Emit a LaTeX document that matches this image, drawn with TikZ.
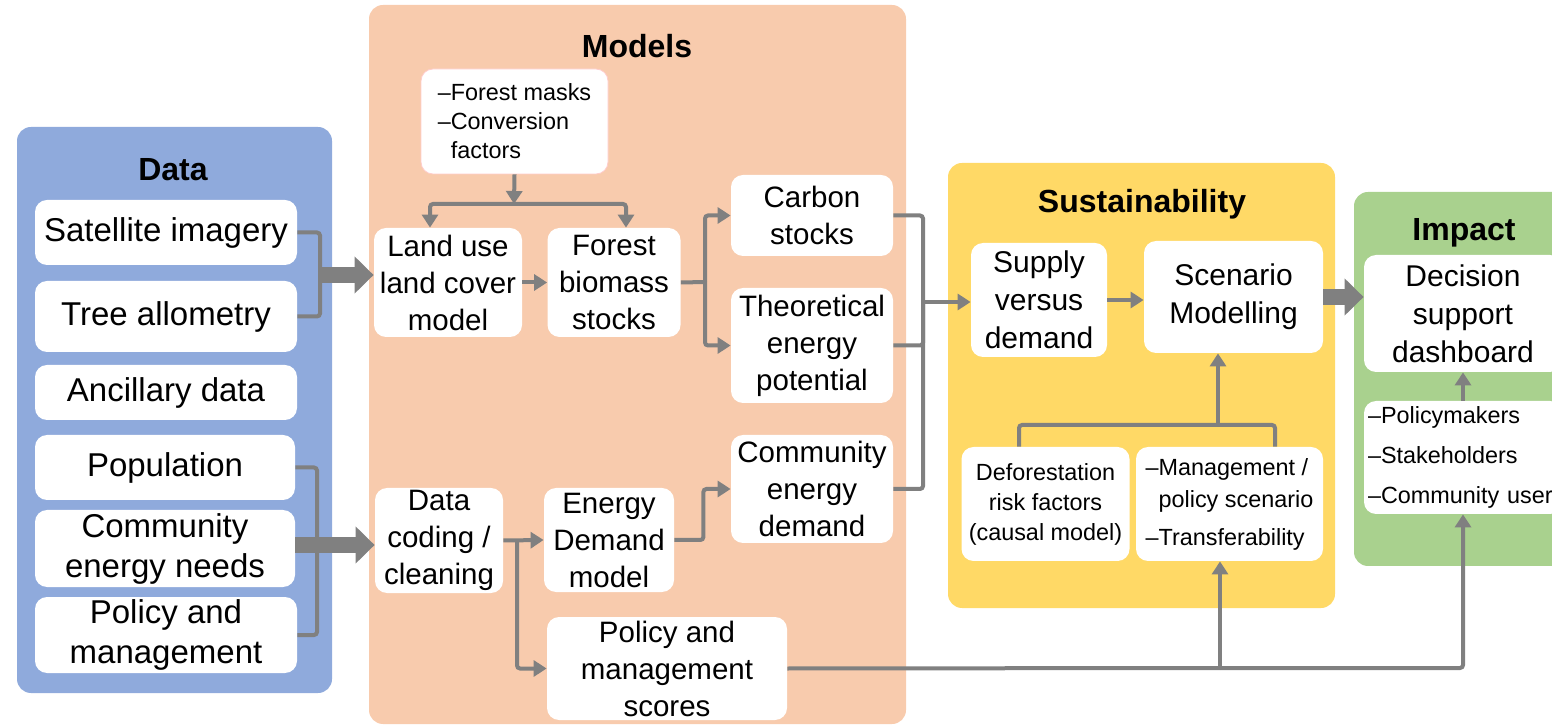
\documentclass[tikz,border=0pt]{standalone}
\usepackage{fontspec}
\setmainfont{Liberation Sans}
\usetikzlibrary{arrows.meta}
\definecolor{datablue}{HTML}{8FAADC}
\definecolor{modelpeach}{HTML}{F8CBAD}
\definecolor{sustyellow}{HTML}{FFD966}
\definecolor{impactgreen}{HTML}{A9D18E}
\definecolor{linegray}{HTML}{808080}
\tikzset{
  wbox/.style={fill=white, rounded corners=6pt, align=center, inner sep=1pt},
  databox/.style={wbox, font=\fontsize{16.5}{20}\selectfont},
  modbox/.style={wbox, font=\fontsize{14.75}{18.5}\selectfont},
  susbox/.style={wbox, font=\fontsize{15}{19}\selectfont},
  listbox/.style={wbox, font=\fontsize{11.7}{14.5}\selectfont},
  head/.style={font=\fontsize{16}{19}\selectfont\bfseries},
  bar/.style={draw=linegray, line width=2pt, rounded corners=1.5pt},
  conn/.style={bar, -{Triangle[length=6.5pt,width=8pt]}},
  fat/.style={draw=linegray, line width=8pt, -{Triangle[length=9.5pt,width=18pt]}},
}

\begin{document}
\begin{tikzpicture}[x=0.5pt, y=-0.5pt]
    \useasboundingbox (0,0) rectangle (1552,726);
    \clip (0,0) rectangle (1552,726);

    \fill[datablue, rounded corners=7pt] (17,127) rectangle (332,693);
    \fill[modelpeach, rounded corners=7pt] (369,5) rectangle (906,724);
    \fill[sustyellow, rounded corners=7pt] (948,163) rectangle (1335,608);
    \fill[impactgreen, rounded corners=7pt] (1354,192) rectangle (1580,566);

    \node[head] (datat) at (173,170) {Data};
    \node[head] (modelt) at (637,46) {Models};
    \node[head] (sust) at (1142,204) {Sustainability};
    \node[head] (impactt) at (1464,233) {Impact};

    \node[databox, minimum width=131pt, minimum height=32.5pt] (sat) at (166,232.5) {Satellite imagery};
    \node[databox, minimum width=131pt, minimum height=35.5pt] (tree) at (166,316.5) {Tree allometry};
    \node[databox, minimum width=131pt, minimum height=27.5pt] (anc) at (166,392.5) {Ancillary data};
    \node[databox, minimum width=130pt, minimum height=32.5pt] (pop) at (165,467.5) {Population};
    \node[databox, minimum width=130pt, minimum height=38.5pt] (need) at (165,548.5) {Community\\energy needs};
    \node[databox, minimum width=131pt, minimum height=38pt] (polin) at (166,635) {Policy and\\management};

    \node[listbox, align=left, draw=red!20, line width=0.4pt, minimum width=93.5pt, minimum height=52.5pt] (masks) at (514.5,121.5) {–Forest masks\\–Conversion\\\phantom{–}factors};
    \node[modbox, minimum width=74pt, minimum height=54.5pt] (luc) at (448,282.5) {Land use\\land cover\\model};
    \node[modbox, minimum width=66.5pt, minimum height=54.5pt] (fbs) at (614,282.5) {Forest\\biomass\\stocks};
    \node[modbox, minimum width=81pt, minimum height=40.5pt] (carbon) at (812,215.5) {Carbon\\stocks};
    \node[modbox, minimum width=81pt, minimum height=57.5pt] (theo) at (812,345.5) {Theoretical\\energy\\potential};
    \node[modbox, minimum width=81pt, minimum height=54pt] (commdem) at (812,489) {Community\\energy\\demand};
    \node[modbox, minimum width=64pt, minimum height=52.5pt] (clean) at (439,540.5) {Data\\coding /\\cleaning};
    \node[modbox, minimum width=65pt, minimum height=52pt] (energy) at (609,540) {Energy\\Demand\\model};
    \node[modbox, minimum width=120pt, minimum height=51.5pt] (scores) at (667,668.5) {Policy and\\management\\scores};

    \node[susbox, minimum width=68pt, minimum height=57pt] (supply) at (1039,300) {Supply\\versus\\demand};
    \node[susbox, minimum width=89.5pt, minimum height=56pt] (scen) at (1233.5,297) {Scenario\\Modelling};
    \node[listbox, font=\fontsize{11.7}{15}\selectfont, minimum width=84pt, minimum height=57pt] (defo) at (1045.5,504) {Deforestation\\risk factors\\(causal model)};
    \node[listbox, align=left, font=\fontsize{11.7}{16}\selectfont, minimum width=93.5pt, minimum height=57pt] (mgmt) at (1229.5,504) {–Management /\\\phantom{–}policy scenario\\[3pt]–Transferability};

    \node[susbox, minimum width=99pt, minimum height=58.5pt] (dss) at (1463,313.5) {Decision\\support\\dashboard};
    \node[listbox, align=left, font=\fontsize{11.7}{20}\selectfont, text width=95pt, inner sep=2pt, minimum height=56.5pt] (users) at (1463,457.5) {–Policymakers\\–Stakeholders\\–Community user};

    \coordinate (dj1) at (320,275);
    \coordinate (dj2) at (317,545);
    \coordinate (mj) at (514,204);
    \coordinate (split) at (705,282);
    \coordinate (fork) at (517,540);
    \coordinate (merge) at (923,302);
    \coordinate (sj) at (1218,425);
    \coordinate (pj) at (1220,668);

    \draw[bar] (sat.east) -| (dj1);
    \draw[bar] (tree.east) -| (dj1);
    \draw[fat] (dj1) -- (luc.west |- dj1);
    \draw[bar] (pop.east) -| (dj2);
    \draw[bar] (polin.east) -| (dj2);
    \draw[fat] (need.east |- dj2) -- (clean.west |- dj2);

    \draw[conn] (masks.south) -- (mj);
    \draw[conn] (mj) -| ([xshift=-9pt]luc.north);
    \draw[conn] (mj) -| ([xshift=6pt]fbs.north);
    \draw[conn] (luc.east) -- (fbs.west);
    \draw[bar] (fbs.east) -- (split);
    \draw[conn] (split) |- (carbon.west);
    \draw[conn] (split) |- (theo.west);
    \draw[conn] (clean.east) -- (energy.west);
    \draw[conn] (fork) |- (scores.west);
    \draw[conn] (energy.east) -- ++(29,0) |- (commdem.west);

    \draw[bar] (carbon.east) -| (merge);
    \draw[bar] (theo.east) -| (merge);
    \draw[bar] (commdem.east) -| (merge);
    \draw[conn] (merge) -- (merge -| supply.west);
    \draw[conn] (supply.east) -- (scen.west |- supply.east);
    \draw[bar] ([xshift=-13.25pt]defo.north) |- (sj);
    \draw[bar] ([xshift=22.75pt]mgmt.north) |- (sj);
    \draw[conn] (sj) -- (sj |- scen.south);
    \draw[fat] (scen.east) -- (scen.east -| dss.west);

    \draw[bar] (scores.east) -- (pj);
    \draw[conn] (pj) -- (pj |- mgmt.south);
    \draw[conn] (pj) -| (users.south);
    \draw[conn] (users.north) -- (dss.south);
  \end{tikzpicture}
\end{document}
